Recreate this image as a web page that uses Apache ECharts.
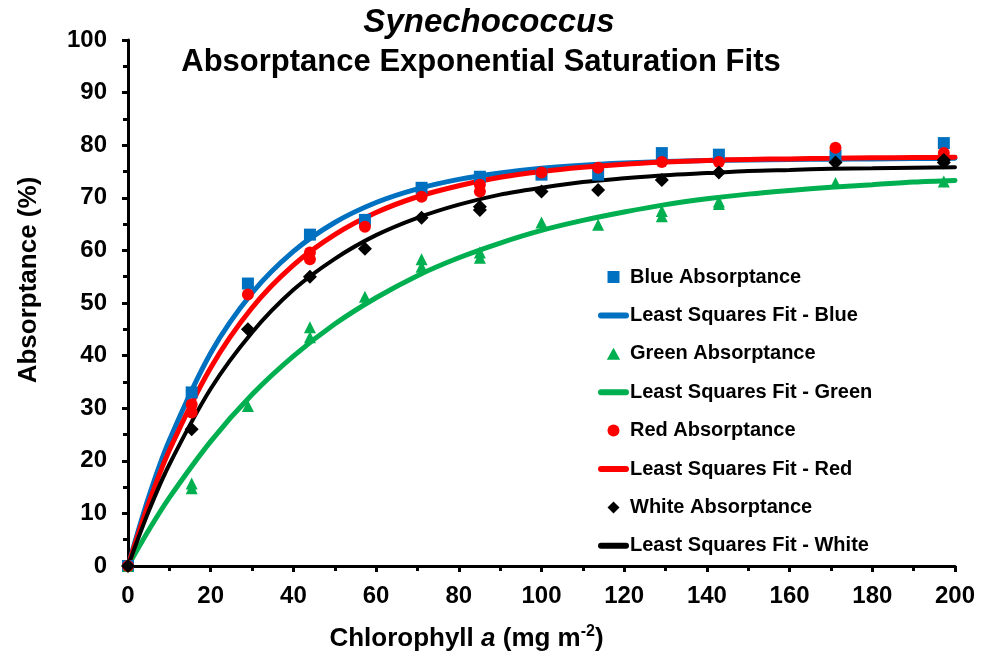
<!DOCTYPE html>
<html><head><meta charset="utf-8">
<script src="https://cdn.jsdelivr.net/npm/echarts@6/dist/echarts.min.js"></script>
<style>html,body{margin:0;padding:0;background:#fff}#c{width:987px;height:659px}</style>
</head><body><div id="c"></div>
<script>
// ---- data ----
const xTicks = [0, 20, 40, 60, 80, 100, 120, 140, 160, 180, 200];
const yTicks = [0, 10, 20, 30, 40, 50, 60, 70, 80, 90, 100];

const chlX      = [0, 15.4, 29, 44, 57.3, 71, 85.1, 100, 113.7, 129.1, 142.9, 171.1, 197.3];
const blueAbs   = [0, 33.0, 53.7, 63.0, 65.8, 71.9, 74.0, 74.4, 74.4, 78.5, 78.2, 78.0, 80.4];
const greenAbs  = [0, 15.7, 30.4, 45.4, 51.2, 58.3, 59.6, 65.3, 64.9, 67.5, 69.3, 72.8, 73.1];
const redAbs    = [0, 30.7, 51.6, 59.6, 64.5, 70.2, 72.5, 74.8, 75.7, 76.8, 76.8, 79.5, 78.5];
const whiteAbs  = [0, 26.0, 45.0, 55.0, 60.3, 66.2, 68.3, 71.2, 71.5, 73.4, 74.8, 76.7, 77.2];

// replicate points visible next to the main ones
const greenExtra = [[15.4, 14.8], [44, 43.5], [71, 56.9], [85.1, 58.6], [129.1, 66.5], [142.9, 68.8]];
const redExtra   = [[15.4, 29.2], [44, 58.3], [85.1, 71.2]];
const whiteExtra = [[85.1, 67.7], [197.3, 76.7]];

// fitted curves
const fitX      = [0, 5, 10, 20, 30, 40, 50, 60, 70, 80, 90, 100, 110, 120, 130, 140, 150, 160, 170, 180, 190, 200];
const blueFit   = [0, 13.1, 23.9, 40.5, 51.9, 59.8, 65.3, 69.1, 71.7, 73.5, 74.7, 75.6, 76.2, 76.6, 76.9, 77.1, 77.2, 77.3, 77.35, 77.4, 77.45, 77.5];
const greenFit  = [0, 6.8, 13.0, 23.7, 32.6, 39.9, 46.0, 51.0, 55.2, 58.6, 61.4, 63.8, 65.7, 67.3, 68.7, 69.8, 70.7, 71.4, 72.0, 72.5, 73.0, 73.3];
const redFit    = [0, 11.9, 22.0, 37.7, 49.1, 57.2, 63.0, 67.2, 70.2, 72.3, 73.9, 75.0, 75.8, 76.4, 76.8, 77.1, 77.3, 77.4, 77.5, 77.6, 77.65, 77.7];
const whiteFit  = [0, 10.4, 19.3, 33.7, 44.4, 52.5, 58.4, 62.9, 66.2, 68.7, 70.6, 71.9, 73.0, 73.7, 74.3, 74.7, 75.1, 75.3, 75.5, 75.6, 75.7, 75.8];

const seriesNames = ['Blue Absorptance', 'Least Squares Fit - Blue', 'Green Absorptance', 'Least Squares Fit - Green',
                     'Red Absorptance', 'Least Squares Fit - Red', 'White Absorptance', 'Least Squares Fit - White'];
// ----------------------------------------------

const FONT = '"Liberation Sans", Arial, sans-serif';
const C_BLUE = '#0070C0', C_GREEN = '#00B050', C_RED = '#FF0000', C_BLACK = '#000000';
const LINE_ICON = 'path://M3,0H28A3,3,0,0,1,28,6H3A3,3,0,0,1,3,0Z';

function pairs(xs, ys) { return xs.map((x, i) => [x, ys[i]]); }

function scatter(name, data, symbol, size, color, z) {
  return { name, type: 'scatter', data, symbol, symbolSize: size, itemStyle: { color, opacity: 1 }, z };
}
function fit(name, ys, color, width, z) {
  return { name, type: 'line', data: pairs(fitX, ys), smooth: 0.3, symbol: 'none', showSymbol: false,
           lineStyle: { color, width, cap: 'round' }, itemStyle: { color }, z };
}

const chart = echarts.init(document.getElementById('c'), null, { renderer: 'canvas' });
const axisLineStyle = { color: '#000', width: 3 };

chart.setOption({
  animation: false,
  backgroundColor: '#fff',
  textStyle: { fontFamily: FONT },
  graphic: [
    { type: 'text', x: 489, y: 23, style: { text: 'Synechococcus', font: 'italic bold 33px ' + FONT, fill: '#000', textAlign: 'center', textVerticalAlign: 'middle' } },
    { type: 'text', x: 481, y: 62, style: { text: 'Absorptance Exponential Saturation Fits', font: 'bold 31px ' + FONT, fill: '#000', textAlign: 'center', textVerticalAlign: 'middle' } }
  ],
  grid: { left: 128, right: 32, top: 40, bottom: 92, containLabel: false },
  xAxis: {
    type: 'value', min: xTicks[0], max: xTicks[xTicks.length - 1], interval: xTicks[1] - xTicks[0],
    axisLine: { lineStyle: axisLineStyle },
    axisTick: { show: true, inside: false, length: 6, lineStyle: { color: '#000', width: 3 } },
    minorTick: { show: true, splitNumber: 2, length: 5, lineStyle: { color: '#000', width: 3 } },
    splitLine: { show: false },
    axisLabel: { color: '#000', fontSize: 24, fontWeight: 'bold', fontFamily: FONT, margin: 18 },
    name: 'Chlorophyll {i|a} (mg m{sup|-2})',
    nameLocation: 'middle', nameGap: 58,
    nameTextStyle: {
      color: '#000', fontSize: 26, fontWeight: 'bold', fontFamily: FONT, padding: [0, 150, 0, 0], lineHeight: 30,
      rich: {
        i: { fontSize: 26, fontWeight: 'bold', fontStyle: 'italic', fontFamily: FONT, color: '#000', lineHeight: 30 },
        sup: { fontSize: 16, fontWeight: 'bold', fontFamily: FONT, color: '#000', lineHeight: 16, verticalAlign: 'top' }
      }
    }
  },
  yAxis: {
    type: 'value', min: yTicks[0], max: yTicks[yTicks.length - 1], interval: yTicks[1] - yTicks[0],
    axisLine: { show: true, lineStyle: axisLineStyle },
    axisTick: { show: true, inside: false, length: 6, lineStyle: { color: '#000', width: 3 } },
    minorTick: { show: true, splitNumber: 2, length: 5, lineStyle: { color: '#000', width: 3 } },
    splitLine: { show: false },
    axisLabel: { color: '#000', fontSize: 24, fontWeight: 'bold', fontFamily: FONT, margin: 21 },
    name: 'Absorptance (%)', nameLocation: 'middle', nameGap: 86, nameRotate: 90,
    nameTextStyle: { color: '#000', fontSize: 26, fontWeight: 'bold', fontFamily: FONT, padding: [0, 0, 0, 46] }
  },
  legend: {
    orient: 'vertical', left: 598, top: 267, padding: 0, itemWidth: 31, itemHeight: 12, itemGap: 18.4,
    textStyle: { color: '#000', fontSize: 20, fontWeight: 'bold', fontFamily: FONT, lineHeight: 20, padding: [0, 0, 0, -4] },
    symbolKeepAspect: true,
    data: [
      { name: seriesNames[0], icon: 'path://M0,0H10V10H0Z', itemStyle: { color: C_BLUE, opacity: 1 } },
      { name: seriesNames[1], icon: LINE_ICON, itemStyle: { color: C_BLUE } },
      { name: seriesNames[2], icon: 'path://M5,0L10,9L0,9Z', itemStyle: { color: C_GREEN, opacity: 1 } },
      { name: seriesNames[3], icon: LINE_ICON, itemStyle: { color: C_GREEN } },
      { name: seriesNames[4], icon: 'circle', itemStyle: { color: C_RED, opacity: 1 } },
      { name: seriesNames[5], icon: LINE_ICON, itemStyle: { color: C_RED } },
      { name: seriesNames[6], icon: 'path://M5,0L10,5L5,10L0,5Z', itemStyle: { color: C_BLACK, opacity: 1 } },
      { name: seriesNames[7], icon: LINE_ICON, itemStyle: { color: C_BLACK } }
    ]
  },
  series: [
    scatter(seriesNames[0], pairs(chlX, blueAbs), 'rect', 12, C_BLUE, 3),
    fit(seriesNames[1], blueFit, C_BLUE, 5, 2),
    scatter(seriesNames[2], pairs(chlX, greenAbs).concat(greenExtra), 'triangle', 12, C_GREEN, 3),
    fit(seriesNames[3], greenFit, C_GREEN, 5, 2),
    scatter(seriesNames[4], pairs(chlX, redAbs).concat(redExtra), 'circle', 12, C_RED, 4),
    fit(seriesNames[5], redFit, C_RED, 5, 2),
    scatter(seriesNames[6], pairs(chlX, whiteAbs).concat(whiteExtra), 'diamond', 14, C_BLACK, 5),
    fit(seriesNames[7], whiteFit, C_BLACK, 4, 2)
  ]
});
</script>
</body></html>
